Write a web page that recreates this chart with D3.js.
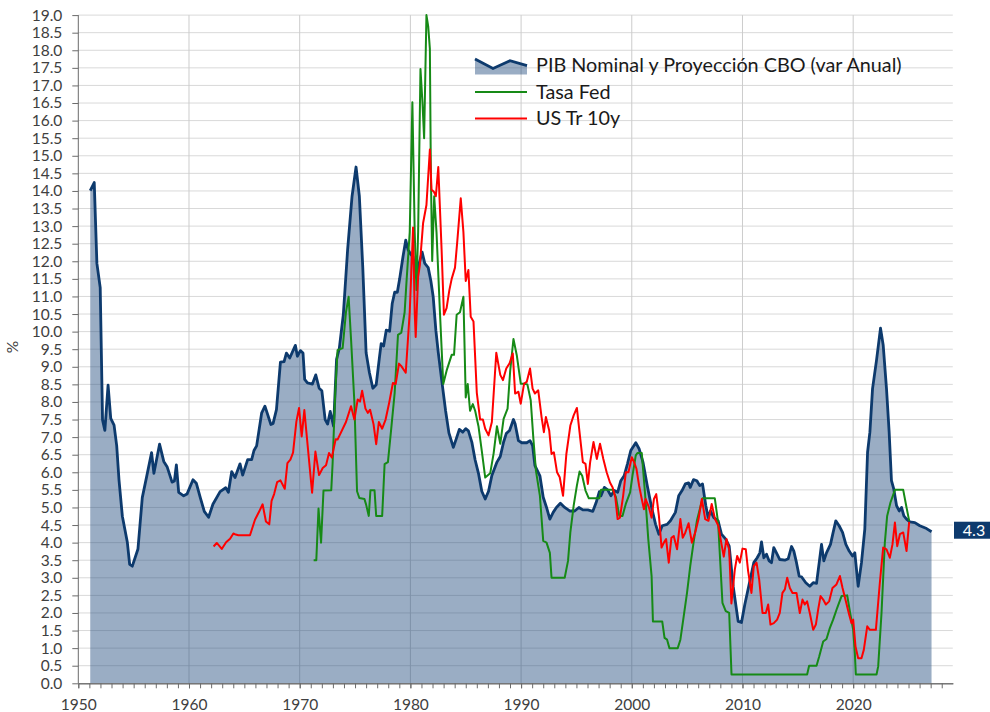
<!DOCTYPE html>
<html>
<head>
<meta charset="utf-8">
<script src="https://cdn.jsdelivr.net/npm/d3@7"></script>
<style>
  body { margin: 0; background: #fff; }
  svg { display: block; font-family: Lato, "Open Sans", sans-serif; }
</style>
</head>
<body>
<div id="chart"></div>
<script>
// PIB nominal (var anual) + proyeccion CBO
var pib = [[1951.08,14.01],[1951.44,14.24],[1951.68,11.94],[1951.98,11.25],[1952.19,7.49],[1952.40,7.19],[1952.69,8.48],[1952.93,7.53],[1953.23,7.34],[1953.47,6.75],[1953.68,5.77],[1953.98,4.75],[1954.43,4.01],[1954.64,3.38],[1954.88,3.33],[1955.39,3.82],[1955.78,5.28],[1956.17,5.87],[1956.62,6.56],[1956.83,5.97],[1957.34,6.80],[1957.72,6.31],[1958.02,6.16],[1958.47,5.72],[1958.68,5.75],[1958.86,6.21],[1959.07,5.43],[1959.52,5.33],[1959.82,5.38],[1960.36,5.79],[1960.66,5.69],[1961.02,5.28],[1961.38,4.89],[1961.77,4.72],[1962.16,5.09],[1962.81,5.45],[1963.32,5.56],[1963.56,5.43],[1963.86,6.02],[1964.16,5.85],[1964.61,6.24],[1964.85,5.92],[1965.30,6.36],[1965.66,6.36],[1965.87,6.62],[1966.11,6.75],[1966.56,7.68],[1966.86,7.88],[1967.40,7.36],[1967.60,7.39],[1967.90,7.78],[1968.26,9.13],[1968.59,9.15],[1968.80,9.39],[1969.10,9.25],[1969.61,9.61],[1969.79,9.30],
  [1970.06,9.46],[1970.30,9.39],[1970.45,8.64],[1970.70,8.54],[1971.15,8.51],[1971.45,8.77],[1971.76,8.39],[1972.0,8.32],[1972.30,7.50],[1972.52,7.37],[1972.76,7.73],[1973.06,7.31],[1973.33,9.21],[1973.58,9.53],[1973.94,10.48],[1974.33,12.33],[1974.73,13.85],[1975.09,14.68],[1975.39,13.85],[1975.70,11.82],[1976.0,9.40],[1976.30,8.83],[1976.61,8.39],[1976.91,8.49],[1977.21,9.28],[1977.36,9.66],[1977.58,9.59],[1977.82,10.04],[1978.12,10.01],[1978.36,10.80],[1978.58,11.12],[1978.82,11.12],[1979.03,11.50],[1979.33,12.13],[1979.58,12.60],[1979.79,12.33],[1980.03,12.20],[1980.24,12.13],[1980.55,11.54],[1980.79,11.94],[1981.06,12.26],[1981.30,11.94],[1981.61,11.82],[1981.85,11.44],[1982.06,10.99],[1982.30,10.04],[1982.52,9.40],[1982.82,8.64],[1983.18,7.75],[1983.48,7.12],[1983.88,6.71],[1984.12,6.93],[1984.42,7.22],[1984.73,7.14],[1985.0,7.24],[1985.24,7.18],[1985.55,6.86],[1985.85,6.35],[1986.15,5.97],[1986.45,5.46],[1986.76,5.24],[1987.06,5.46],[1987.36,5.91],[1987.82,6.29],
  [1988.12,6.45],[1988.42,6.86],[1988.66,7.10],[1988.96,7.19],[1989.31,7.50],[1989.46,7.38],[1989.76,6.90],[1990.06,6.84],[1990.51,6.84],[1990.81,6.90],[1991.04,6.76],[1991.25,6.19],[1991.70,5.90],[1992.0,5.29],[1992.30,5.0],[1992.60,4.67],[1992.90,4.86],[1993.19,5.0],[1993.55,5.12],[1993.94,5.0],[1994.39,4.90],[1994.84,4.90],[1995.22,5.0],[1995.58,4.93],[1996.03,4.93],[1996.48,4.89],[1996.78,5.14],[1997.07,5.45],[1997.22,5.33],[1997.52,5.57],[1997.82,5.50],[1998.12,5.33],[1998.42,5.48],[1998.72,5.43],[1999.01,5.76],[1999.31,5.90],[1999.61,6.24],[1999.91,6.62],[2000.36,6.84],[2000.66,6.67],[2001.01,6.29],[2001.40,5.62],[2001.79,5.0],[2002.15,4.52],[2002.45,4.24],[2002.75,4.48],[2003.19,4.52],[2003.49,4.62],[2003.94,4.86],[2004.24,5.33],[2004.54,5.48],[2004.84,5.67],[2005.13,5.70],[2005.28,5.57],[2005.58,5.79],[2005.88,5.76],
  [2006.14,5.62],[2006.39,5.67],[2006.69,5.05],[2006.90,4.71],[2007.11,4.90],[2007.41,4.71],[2007.80,4.62],[2008.10,4.24],[2008.49,4.10],[2008.80,3.90],[2009.16,2.76],[2009.61,1.76],[2009.91,1.73],[2010.21,2.24],[2010.66,2.90],[2011.02,3.43],[2011.33,3.57],[2011.57,3.71],[2011.72,4.02],[2011.93,3.57],[2012.17,3.67],[2012.41,3.48],[2012.62,3.43],[2012.83,3.86],[2013.07,3.71],[2013.37,3.52],[2013.83,3.50],[2014.13,3.54],[2014.43,3.89],[2014.64,3.76],[2014.88,3.43],[2015.12,3.05],[2015.33,3.03],[2015.72,2.86],[2016.08,2.76],[2016.39,2.86],[2016.69,2.84],[2016.93,3.43],[2017.14,3.95],[2017.35,3.48],[2017.59,3.71],[2017.95,3.95],[2018.19,4.29],[2018.43,4.62],[2018.73,4.48],[2019.04,4.29],[2019.34,3.95],[2019.64,3.76],[2019.94,3.62],[2020.15,3.71],[2020.45,2.76],[2020.75,3.43],[2021.05,4.38],[2021.30,6.57],[2021.51,7.14],[2021.75,8.38],[2022.11,9.19],[2022.47,10.10],[2022.71,9.62],[2023.01,8.38],[2023.25,7.14],[2023.46,5.76],[2023.67,5.52],[2023.92,5.05],[2024.16,4.90],[2024.37,5.0],[2024.58,4.76],[2024.82,4.67],[2025.12,4.59],[2025.57,4.57],[2026.02,4.48],[2026.63,4.40],[2027.08,4.31]];

// Tasa Fed
var fed = [[1971.26,3.50],[1971.50,3.50],[1971.70,4.97],[1971.93,4.0],[1972.15,5.48],[1972.85,5.49],[1972.97,6.23],[1973.21,8.26],[1973.42,9.47],[1973.88,9.53],[1974.18,10.55],[1974.42,10.99],[1974.64,9.78],[1974.94,8.0],[1975.18,5.46],[1975.39,5.27],[1975.85,5.24],[1976.0,5.08],[1976.24,4.76],[1976.39,5.49],[1976.76,5.49],[1976.91,4.76],[1977.45,4.76],[1977.67,6.23],[1977.97,6.29],[1978.27,7.24],[1978.58,8.26],[1978.88,9.91],[1979.18,9.97],[1979.48,10.55],[1979.64,11.37],[1979.94,12.83],[1980.18,16.52],[1980.39,12.83],[1980.55,11.18],[1980.70,12.83],[1980.91,17.47],[1981.09,16.52],[1981.24,15.50],[1981.45,19.0],[1981.61,18.68],[1981.76,18.04],[1981.85,14.49],[1981.97,12.01],[1982.15,13.85],[1982.36,12.83],[1982.67,10.55],[1982.97,8.51],[1983.27,8.89],[1983.73,9.34],[1983.94,9.34],[1984.18,10.48],[1984.48,10.55],[1984.79,10.99],[1985.0,8.13],[1985.18,8.51],[1985.39,7.75],[1985.64,7.94],[1985.85,7.75],[1986.15,7.31],[1986.45,6.61],[1986.76,5.85],[1987.21,5.97],[1987.52,6.54],[1987.82,7.31],[1988.12,6.81],[1988.42,7.52],[1988.78,7.81],[1989.01,8.86],[1989.31,9.79],[1989.61,9.33],[1989.97,8.52],[1990.21,8.52],[1990.57,8.50],[1990.87,8.05],[1991.10,7.0],[1991.34,6.05],[1991.70,5.33],[1992.0,4.05],[1992.30,4.0],[1992.60,3.71],[1992.75,3.0],[1993.94,3.0],[1994.24,3.48],[1994.45,4.29],[1994.75,5.05],[1995.04,5.62],[1995.28,6.02],[1995.52,5.90],[1995.82,5.48],[1996.12,5.26],[1997.07,5.26],[1997.22,5.50],[1998.27,5.50],[1998.57,5.29],[1998.87,4.76],[1999.16,4.76],[1999.46,5.10],[1999.85,5.43],[2000.06,5.90],[2000.36,6.48],[2000.51,6.55],[2000.90,6.55],[2001.19,5.43],[2001.49,4.10],[2001.79,3.05],[2001.91,1.76],[2002.75,1.76],[2002.96,1.29],[2003.19,1.24],[2003.40,1.0],[2004.15,1.0],[2004.39,1.24],[2004.69,1.90],[2004.99,2.57],[2005.28,3.33],[2005.58,4.0],[2005.88,4.62],[2006.39,5.26],[2007.5,5.26],[2007.80,4.57],[2008.19,2.29],[2008.49,2.05],[2008.80,2.0],[2009.01,0.25],[2015.84,0.25],[2016.02,0.50],[2016.69,0.50],[2016.93,0.76],[2017.29,1.19],[2017.59,1.26],[2017.89,1.57],[2018.19,1.81],[2018.55,2.14],[2018.95,2.48],[2019.46,2.50],[2019.70,2.05],[2020.0,1.52],[2020.15,0.86],[2020.24,0.25],[2022.11,0.25],[2022.26,0.48],[2022.56,2.0],[2022.86,4.0],[2023.07,4.76],[2023.37,5.14],[2023.77,5.50],[2024.52,5.50],[2024.82,5.0],[2025.06,4.62]];

// US Treasury 10y
var tr10 = [[1962.22,3.89],[1962.51,3.99],[1962.96,3.82],[1963.35,4.01],[1963.71,4.11],[1964.01,4.26],[1964.22,4.23],[1964.46,4.21],[1965.51,4.21],[1965.96,4.65],[1966.35,4.89],[1966.65,5.09],[1966.95,4.60],[1967.25,4.52],[1967.46,5.19],[1967.69,5.38],[1967.96,5.72],[1968.26,5.77],[1968.65,5.53],[1968.89,6.26],[1969.16,6.36],[1969.40,6.56],[1969.70,7.44],[1969.94,7.83],[1970.18,7.02],[1970.42,7.77],[1970.72,6.76],[1971.12,5.42],[1971.42,6.59],[1971.75,5.92],[1972.08,6.12],[1972.38,6.20],[1972.65,6.55],[1972.90,6.42],[1973.25,6.94],[1973.42,6.93],[1974.18,7.43],[1974.64,7.88],[1974.94,7.50],[1975.24,8.07],[1975.45,8.01],[1975.64,8.32],[1975.94,7.81],[1976.15,7.69],[1976.36,7.78],[1976.67,7.37],[1976.91,6.80],[1977.15,7.43],[1977.45,7.24],[1977.76,7.50],[1978.06,7.94],[1978.42,8.54],[1978.67,8.51],[1978.97,9.09],[1979.18,9.02],[1979.58,8.83],[1979.70,9.40],[1979.94,10.55],[1980.24,12.96],[1980.39,10.55],[1980.48,9.85],[1980.70,11.56],[1980.85,11.88],[1981.15,13.09],[1981.45,13.60],[1981.76,15.18],[1981.91,14.04],[1982.12,13.98],[1982.30,13.85],[1982.52,14.68],[1982.82,12.33],[1983.03,10.48],[1983.27,10.67],[1983.52,11.18],[1983.73,11.50],[1984.03,11.82],[1984.24,12.58],[1984.55,13.79],[1984.79,12.83],[1985.0,11.44],[1985.24,11.75],[1985.45,10.42],[1985.70,10.29],[1986.0,8.26],[1986.30,7.50],[1986.55,7.50],[1986.76,7.24],[1987.06,7.05],[1987.36,7.43],[1987.76,9.40],[1988.12,8.77],[1988.36,8.62],[1988.66,8.95],[1988.96,9.10],[1989.25,9.38],[1989.46,8.24],[1989.76,8.29],[1989.97,7.95],[1990.27,8.52],[1990.51,8.57],[1990.81,8.95],[1991.04,8.38],[1991.25,8.24],[1991.55,8.33],[1991.85,7.57],[1992.06,7.14],[1992.24,7.57],[1992.54,7.19],[1992.75,6.52],[1992.96,6.57],[1993.25,6.0],[1993.49,5.86],[1993.79,5.33],[1994.09,6.52],[1994.45,7.33],[1994.75,7.62],[1995.04,7.83],[1995.28,7.14],[1995.58,6.29],[1995.82,6.24],[1996.03,5.67],[1996.24,6.29],[1996.54,6.86],[1996.84,6.38],[1997.13,6.81],[1997.43,6.38],[1997.73,6.0],[1998.03,5.71],[1998.27,5.57],[1998.51,5.29],[1998.72,4.67],[1998.93,4.71],[1999.22,5.33],[1999.46,6.0],[1999.70,6.0],[2000.0,6.43],[2000.21,6.29],[2000.42,6.10],[2000.66,5.62],[2000.90,5.24],[2001.10,4.95],[2001.25,5.24],[2001.55,5.0],[2001.79,4.71],[2002.0,5.24],[2002.21,5.38],[2002.45,4.76],[2002.69,3.86],[2002.90,4.0],[2003.10,4.10],[2003.34,3.43],[2003.58,4.14],[2003.79,4.19],[2004.09,3.81],[2004.39,4.67],[2004.60,4.14],[2004.84,4.29],[2005.13,4.55],[2005.43,4.0],[2005.73,4.29],[2006.03,4.67],[2006.33,5.24],[2006.63,4.67],[2006.93,4.62],[2007.22,5.10],[2007.52,4.67],[2007.82,4.48],[2008.08,4.0],[2008.31,3.60],[2008.55,4.10],[2008.80,3.80],[2009.0,2.27],[2009.31,3.24],[2009.52,3.62],[2009.76,3.43],[2010.0,3.83],[2010.30,3.81],[2010.51,3.19],[2010.81,2.57],[2011.02,3.33],[2011.27,3.43],[2011.51,2.95],[2011.81,2.0],[2012.11,2.0],[2012.32,2.24],[2012.53,1.67],[2012.83,1.71],[2013.13,1.81],[2013.37,2.0],[2013.61,2.57],[2013.83,2.67],[2014.04,3.0],[2014.28,2.71],[2014.52,2.57],[2014.88,2.57],[2015.18,2.0],[2015.42,2.38],[2015.63,2.24],[2015.84,2.33],[2016.08,2.0],[2016.39,1.52],[2016.63,1.67],[2016.84,2.10],[2017.05,2.48],[2017.29,2.38],[2017.53,2.24],[2017.83,2.33],[2018.13,2.71],[2018.49,2.81],[2018.80,3.05],[2019.04,2.71],[2019.34,2.33],[2019.64,1.95],[2019.85,1.71],[2020.0,1.81],[2020.21,1.05],[2020.45,0.71],[2020.75,0.71],[2020.96,0.95],[2021.27,1.62],[2021.51,1.52],[2022.05,1.52],[2022.41,2.86],[2022.71,3.86],[2023.01,3.81],[2023.31,3.57],[2023.55,3.95],[2023.77,4.57],[2023.98,3.90],[2024.22,4.24],[2024.52,4.29],[2024.82,3.76],[2025.06,4.59]];

var yTicks = d3.range(0, 19.01, 0.5);
var yearTicks = d3.range(1950, 2029);
var decadeTicks = [1950, 1960, 1970, 1980, 1990, 2000, 2010, 2020];
var legendNames = ["PIB Nominal y Proyección CBO (var Anual)", "Tasa Fed", "US Tr 10y"];
var lastLabel = "4.3";

var width = 990, height = 712;
var margin = { top: 15.1, right: 37.2, bottom: 28.7, left: 78.3 };
var navy = "#0d3a6d", green = "#168a16", red = "#ff0000";

var x = d3.scaleLinear().domain([1950, 2029]).range([margin.left, width - margin.right]);
var y = d3.scaleLinear().domain([0, 19]).range([height - margin.bottom, margin.top]);

var svg = d3.select("#chart").append("svg")
    .attr("width", width)
    .attr("height", height);

// grid
svg.append("g")
    .selectAll("line.h")
    .data(yTicks.filter(function (d) { return d > 0; }))
    .enter().append("line")
    .attr("x1", margin.left).attr("x2", width - margin.right)
    .attr("y1", function (d) { return y(d); }).attr("y2", function (d) { return y(d); })
    .attr("stroke", "#d9d9d9").attr("stroke-width", 1);

svg.append("g")
    .selectAll("line.v")
    .data(decadeTicks.filter(function (d) { return d > 1950; }))
    .enter().append("line")
    .attr("x1", function (d) { return x(d); }).attr("x2", function (d) { return x(d); })
    .attr("y1", margin.top).attr("y2", y(0))
    .attr("stroke", "#cccccc").attr("stroke-width", 1);

// area
var area = d3.area()
    .x(function (d) { return x(d[0]); })
    .y0(y(0))
    .y1(function (d) { return y(d[1]); });

svg.append("path")
    .datum(pib)
    .attr("d", area)
    .attr("fill", "#1f497d")
    .attr("fill-opacity", 0.45);

var line = d3.line()
    .x(function (d) { return x(d[0]); })
    .y(function (d) { return y(d[1]); });

svg.append("path").datum(pib).attr("d", line)
    .attr("fill", "none").attr("stroke", navy).attr("stroke-width", 2.8).attr("stroke-linejoin", "round");
svg.append("path").datum(fed).attr("d", line)
    .attr("fill", "none").attr("stroke", green).attr("stroke-width", 2).attr("stroke-linejoin", "round");
svg.append("path").datum(tr10).attr("d", line)
    .attr("fill", "none").attr("stroke", red).attr("stroke-width", 2).attr("stroke-linejoin", "round");

// axes
var yAxis = svg.append("g")
    .attr("transform", "translate(" + margin.left + ",0)")
    .call(d3.axisLeft(y).tickValues(yTicks).tickFormat(d3.format(".1f")).tickSize(6).tickPadding(10));

var xMinor = svg.append("g")
    .attr("transform", "translate(0," + y(0) + ")")
    .call(d3.axisBottom(x).tickValues(yearTicks).tickFormat("").tickSize(5).tickSizeOuter(0));

var xAxis = svg.append("g")
    .attr("transform", "translate(0," + y(0) + ")")
    .call(d3.axisBottom(x).tickValues(decadeTicks).tickFormat(d3.format("d")).tickSize(5).tickPadding(11).tickSizeOuter(0));

[yAxis, xMinor, xAxis].forEach(function (g) {
  g.select(".domain").attr("stroke", "#6b6b6b");
  g.selectAll(".tick line").attr("stroke", "#6b6b6b");
  g.selectAll("text").attr("fill", "#404040").style("font-size", "15.5px").style("font-family", "Lato");
});
yAxis.select(".domain").attr("d", "M0," + y(19) + "V" + y(0));

svg.append("text")
    .attr("transform", "translate(18,347) rotate(-90)")
    .attr("text-anchor", "middle")
    .attr("fill", "#404040")
    .style("font-size", "15.5px")
    .text("%");

// last value label
var last = pib[pib.length - 1];
svg.append("rect")
    .attr("x", 954).attr("y", y(last[1]) - 10)
    .attr("width", 40).attr("height", 17)
    .attr("fill", navy);
svg.append("text")
    .attr("x", 974).attr("y", y(last[1]) - 1.5)
    .attr("dy", "0.35em")
    .attr("text-anchor", "middle")
    .attr("fill", "#fff")
    .style("font-size", "16px")
    .text(lastLabel);

// legend
var lg = svg.append("g");
var sym = [[475, 59], [493, 68.5], [510, 60.7], [527, 65.7]];
lg.append("path")
    .attr("d", d3.area().x(function (d) { return d[0]; }).y0(74.5).y1(function (d) { return d[1]; })(sym))
    .attr("fill", "#1f497d").attr("fill-opacity", 0.45);
lg.append("path")
    .attr("d", d3.line()(sym))
    .attr("fill", "none").attr("stroke", navy).attr("stroke-width", 2.8);
lg.append("line").attr("x1", 475).attr("x2", 527).attr("y1", 92).attr("y2", 92)
    .attr("stroke", green).attr("stroke-width", 2);
lg.append("line").attr("x1", 475).attr("x2", 527).attr("y1", 118.5).attr("y2", 118.5)
    .attr("stroke", red).attr("stroke-width", 2);
lg.selectAll("text.leg")
    .data(legendNames)
    .enter().append("text")
    .attr("x", 536)
    .attr("y", function (d, i) { return [65.5, 92.5, 118.3][i]; })
    .attr("dy", "0.35em")
    .attr("fill", "#1a1a1a")
    .style("font-size", "19.8px")
    .text(function (d) { return d; });
</script>
</body>
</html>
